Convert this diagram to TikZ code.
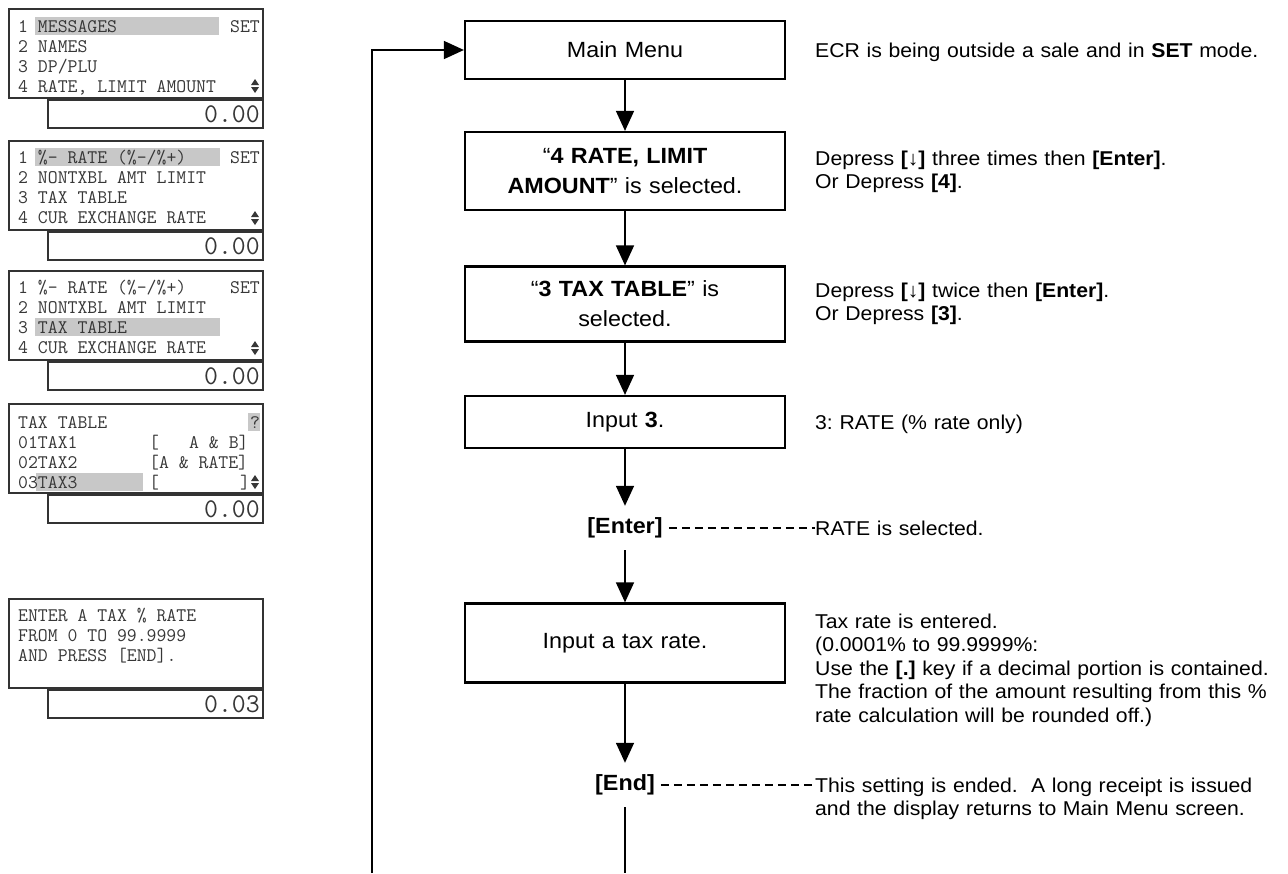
\documentclass[tikz,border=0pt]{standalone}
\usepackage{fontspec}
\setmainfont{Liberation Sans}[FakeStretch=1.06]
\usetikzlibrary{arrows.meta,positioning,calc}
\definecolor{lcdink}{RGB}{55,55,55}
\definecolor{lcdmark}{RGB}{200,200,200}
\newcommand{\boxfont}{\fontsize{22}{30}\selectfont}
\newcommand{\notefont}{\fontsize{20}{23.5}\selectfont\frenchspacing}
\newcommand{\lcdfont}{\fontsize{19.2}{20}\selectfont\ttfamily}
\newcommand{\lcdbig}{\fontsize{27}{27}\selectfont\ttfamily}
\tikzset{
  stepbox/.style={rectangle, draw=black, line width=2.2pt, minimum width=320pt, text width=300pt, align=center, inner sep=0pt, font=\boxfont},
  keytext/.style={inner xsep=6pt, inner ysep=0pt, minimum height=44pt, font=\boxfont\bfseries},
  note/.style={anchor=base west, inner sep=0pt, text width=470pt, align=left, font=\notefont},
  flow/.style={-{Triangle[length=20pt,width=18pt]}, line width=1.5pt},
  guide/.style={line width=1.3pt, dash pattern=on 8pt off 5pt},
  lcd/.style={rectangle, draw=black!80, line width=2pt, anchor=north west, minimum width=254pt, minimum height=89pt, inner sep=0pt},
  lcdbar/.style={rectangle, draw=black!80, line width=2pt, anchor=north east, minimum width=215pt, minimum height=28pt, inner sep=0pt},
  lcdtxt/.style={anchor=base west, inner sep=0pt, text=lcdink, font=\lcdfont},
  lcdval/.style={anchor=east, inner sep=0pt, text=lcdink, font=\lcdbig},
  hlbar/.style={fill=lcdmark},
  updown/.pic={\fill[lcdink] (-4,-1) -- (4,-1) -- (0,-7) -- cycle (-4,1) -- (4,1) -- (0,7) -- cycle;}
}

\begin{document}
\begin{tikzpicture}[x=1pt, y=-1pt]
\useasboundingbox (0,0) rectangle (1288,873);

% display screens
\node[lcd] (scr1) at (8,8) {};
\node[lcdbar] (bar1) at (scr1.south east) {};
\fill[hlbar] (35,17) rectangle (219,35);
\node[lcdtxt] (s1a) at (18,32) {1 MESSAGES};
\node[lcdtxt] (s1set) at (230,32) {SET};
\node[lcdtxt] (s1b) at (18,52) {2 NAMES};
\node[lcdtxt] (s1c) at (18,72) {3 DP/PLU};
\node[lcdtxt] (s1d) at (18,92) {4 RATE, LIMIT AMOUNT};
\pic at (255,86) {updown};
\node[lcdval, left=4pt of bar1.east] (v1) {0.00};

\node[lcd] (scr2) at (8,140) {};
\node[lcdbar] (bar2) at (scr2.south east) {};
\fill[hlbar] (35,148) rectangle (220,166);
\node[lcdtxt] (s2a) at (18,163) {1 \%- RATE (\%-/\%+)};
\node[lcdtxt] (s2set) at (230,163) {SET};
\node[lcdtxt] (s2b) at (18,183) {2 NONTXBL AMT LIMIT};
\node[lcdtxt] (s2c) at (18,203) {3 TAX TABLE};
\node[lcdtxt] (s2d) at (18,223) {4 CUR EXCHANGE RATE};
\pic at (255,218) {updown};
\node[lcdval, left=4pt of bar2.east] (v2) {0.00};

\node[lcd] (scr3) at (8,270) {};
\node[lcdbar] (bar3) at (scr3.south east) {};
\fill[hlbar] (35,318) rectangle (220,336);
\node[lcdtxt] (s3a) at (18,293) {1 \%- RATE (\%-/\%+)};
\node[lcdtxt] (s3set) at (230,293) {SET};
\node[lcdtxt] (s3b) at (18,313) {2 NONTXBL AMT LIMIT};
\node[lcdtxt] (s3c) at (18,333) {3 TAX TABLE};
\node[lcdtxt] (s3d) at (18,353) {4 CUR EXCHANGE RATE};
\pic at (255,348) {updown};
\node[lcdval, left=4pt of bar3.east] (v3) {0.00};

\node[lcd] (scr4) at (8,403) {};
\node[lcdbar] (bar4) at (scr4.south east) {};
\fill[hlbar] (248,413) rectangle (260,431);
\fill[hlbar] (36,473) rectangle (143,491);
\node[lcdtxt] (s4a) at (18,428) {TAX TABLE};
\node[lcdtxt] (s4q) at (250,428) {?};
\node[lcdtxt] (s4b) at (18,448) {01TAX1};
\node[lcdtxt] (s4bl) at (149,448) {[};
\node[lcdtxt] (s4br) at (189,448) {A \& B]};
\node[lcdtxt] (s4c) at (18,468) {02TAX2};
\node[lcdtxt] (s4cr) at (149,468) {[A \& RATE]};
\node[lcdtxt] (s4d) at (18,488) {03TAX3};
\node[lcdtxt] (s4dl) at (149,488) {[};
\node[lcdtxt] (s4dr) at (240,488) {]};
\pic at (255,482) {updown};
\node[lcdval, left=4pt of bar4.east] (v4) {0.00};

\node[lcd] (scr5) at (8,598) {};
\node[lcdbar] (bar5) at (scr5.south east) {};
\node[lcdtxt] (s5a) at (18,621) {ENTER A TAX \% RATE};
\node[lcdtxt] (s5b) at (18,641) {FROM 0 TO 99.9999};
\node[lcdtxt] (s5c) at (18,661) {AND PRESS [END].};
\node[lcdval, left=4pt of bar5.east] (v5) {0.03};

% flow
\node[stepbox, minimum height=58pt] (menu) at (625,50) {Main Menu};
\node[stepbox, minimum height=78pt] (sel4) at (625,171) {“\textbf{4 RATE, LIMIT}\\\textbf{AMOUNT}” is selected.};
\node[stepbox, minimum height=75pt] (sel3) at (625,304) {“\textbf{3 TAX TABLE}” is\\selected.};
\node[stepbox, minimum height=52pt] (in3) at (625,422) {Input \textbf{3}.};
\node[keytext] (kenter) at (625,528) {[Enter]};
\node[stepbox, minimum height=79pt] (inrate) at (625,643) {Input a tax rate.};
\node[keytext] (kend) at (625,785) {[End]};
\coordinate (outend) at (625,873);
\coordinate (loopin) at (372,873);

\node[note] (n1) at (815,57) {ECR is being outside a sale and in \textbf{SET} mode.};
\node[note] (n2) at (815,165) {Depress \textbf{[↓]} three times then \textbf{[Enter]}.\\Or Depress \textbf{[4]}.};
\node[note] (n3) at (815,297) {Depress \textbf{[↓]} twice then \textbf{[Enter]}.\\Or Depress \textbf{[3]}.};
\node[note] (n4) at (815,429) {3: RATE (\% rate only)};
\node[note] (n5) at (815,535) {RATE is selected.};
\node[note] (n6) at (815,628) {Tax rate is entered.\\(0.0001\% to 99.9999\%:\\Use the \textbf{[.]} key if a decimal portion is contained.\\The fraction of the amount resulting from this \%\\rate calculation will be rounded off.)};
\node[note] (n7) at (815,792) {This setting is ended.\ \ A long receipt is issued\\and the display returns to Main Menu screen.};

\draw[flow] (menu) -- (sel4);
\draw[flow] (sel4) -- (sel3);
\draw[flow] (sel3) -- (in3);
\draw[flow] (in3) -- (kenter);
\draw[flow] (kenter) -- (inrate);
\draw[flow] (inrate) -- (kend);
\draw[line width=1.5pt] (kend) -- (outend);
\draw[flow] (loopin) |- (menu.west);
\draw[guide] (kenter.east) -- (kenter.east -| n5.west);
\draw[guide] (kend.east) -- (kend.east -| n7.west);
\end{tikzpicture}
\end{document}
